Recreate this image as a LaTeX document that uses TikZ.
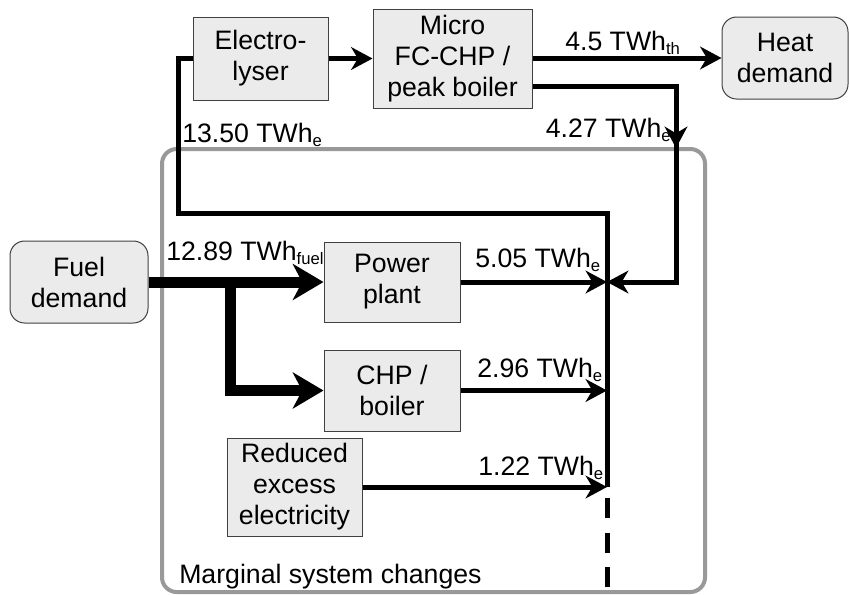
\documentclass[tikz,border=0pt]{standalone}
\usepackage{fontspec}
\setmainfont{Liberation Sans}
\usetikzlibrary{arrows.meta,calc}
\newcommand\mysub[1]{\raisebox{-3pt}{\fontsize{12.5}{12.5}\selectfont #1}}
\definecolor{boxfill}{HTML}{EBEBEB}
\definecolor{boxline}{HTML}{404040}
\definecolor{framegray}{HTML}{999999}
\begin{document}
\begin{tikzpicture}[x=0.75pt,y=-0.75pt,
  font=\fontsize{20}{23.25}\selectfont,
  box/.style={draw=boxline, line width=0.75pt, fill=boxfill, align=center, inner sep=0pt},
  rbox/.style={box, rounded corners=11pt},
  flow/.style={line width=3.75pt, -{Stealth[length=16pt,width=17pt,inset=5pt]}},
  plain/.style={line width=3.75pt},
  fuelflow/.style={line width=8.25pt, -{Stealth[length=23pt,width=27pt,inset=7pt]}},
  lbl/.style={inner sep=0pt, anchor=base west},
]
\useasboundingbox (0,0) rectangle (849,594);
\node[draw=framegray, line width=3pt, rounded corners=11pt, minimum width=407.25pt, minimum height=332.25pt, inner sep=0pt] (frame) at (433.5,370.5) {};

\node[box, minimum width=101.25pt, minimum height=62.25pt] (elec) at (260.5,58.5) {Electro-\\lyser};
\node[box, minimum width=119.25pt, minimum height=74.25pt] (micro) at (452.5,58.5) {Micro\\FC-CHP /\\peak boiler};
\node[rbox, minimum width=94.5pt, minimum height=61.5pt] (heat) at (785,58) {Heat\\demand};
\node[rbox, minimum width=103.5pt, minimum height=61.5pt] (fuel) at (79,282) {Fuel\\demand};
\node[box, minimum width=102pt, minimum height=60pt] (power) at (392,282) {Power\\plant};
\node[box, minimum width=102pt, minimum height=60.75pt] (chp) at (392,390.5) {CHP /\\boiler};
\node[box, minimum width=101.25pt, minimum height=73.5pt] (red) at (294.5,487) {Reduced\\excess\\electricity};

\coordinate (busTop) at (607,213);
\coordinate (busEnd) at (607,487);
\coordinate (dashStart) at (607,498);
\coordinate (dashEnd) at (607,594);
\coordinate (elecCorner) at (178,213);
\coordinate (microCorner) at (676,282);
\coordinate (branch) at (230,282);

% electrolyser line and bus
\draw[plain] (elec.west) -| (elecCorner) -- (busTop) -- (busEnd);
\draw[plain, dash pattern=on 15pt off 11pt] (dashStart) -- (dashEnd);

% top flows
\draw[flow] (elec.east) -- (micro.west);
\draw[flow] (micro.east |- heat.west) -- (heat.west);
\draw[flow] (micro.east |- 0,86) -| (microCorner) -- (microCorner -| busTop);
\draw[flow] (microCorner |- 0,118) -- (microCorner |- 0,148);

% fuel
\draw[fuelflow] (fuel.east) -- (power.west);
\draw[fuelflow] (branch) |- (chp.west);

% electricity to bus
\draw[flow] (power.east) -- (power.east -| busTop);
\draw[flow] (chp.east) -- (chp.east -| busTop);
\draw[flow] (red.east) -- (red.east -| busTop);

% labels
\node[lbl] (l1350) at (182,142) {13.50 TWh\mysub{e}};
\node[lbl, anchor=base east] (l427) at (671,137) {4.27 TWh\mysub{e}};
\node[lbl] (l45) at (565,50) {4.5 TWh\mysub{th}};
\node[lbl] (l1289) at (166,260) {12.89 TWh\mysub{fuel}};
\node[lbl] (l505) at (475,267) {5.05 TWh\mysub{e}};
\node[lbl] (l296) at (477,377) {2.96 TWh\mysub{e}};
\node[lbl] (l122) at (478,475) {1.22 TWh\mysub{e}};
\node[lbl] (lmsc) at (179,583) {Marginal system changes};
\end{tikzpicture}
\end{document}
